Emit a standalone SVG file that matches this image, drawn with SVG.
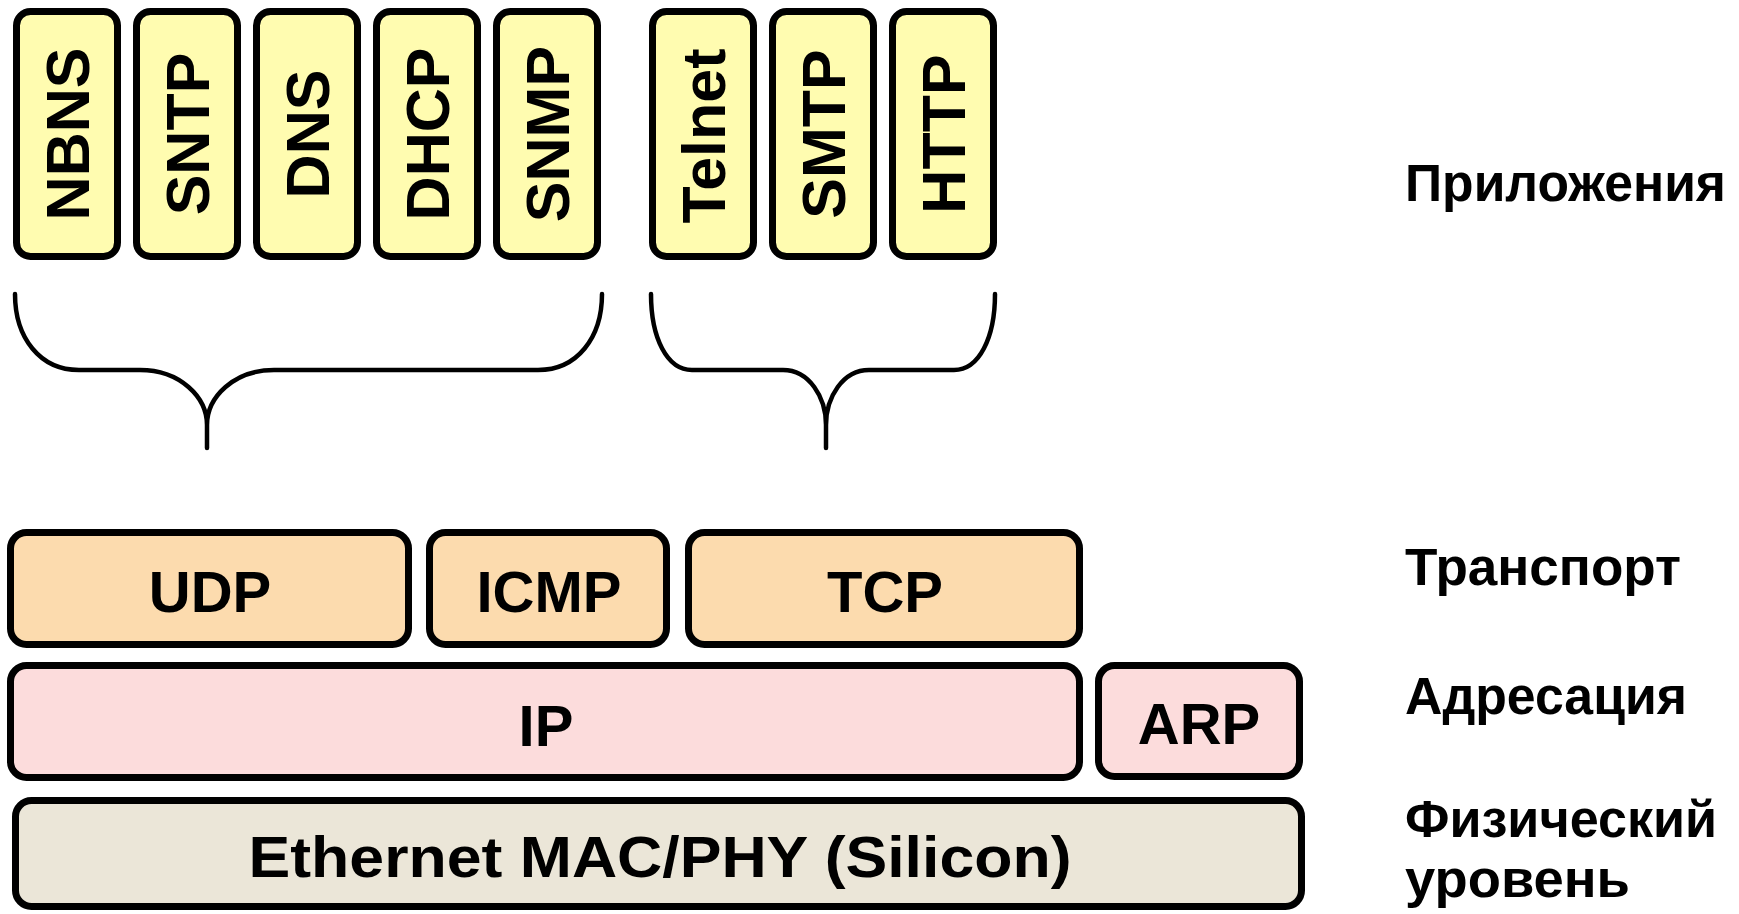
<svg xmlns="http://www.w3.org/2000/svg" width="1739" height="914" viewBox="0 0 1739 914">
<style>
.box{stroke:#000;stroke-width:7}
.app{fill:#FFFCB0}
.tr{fill:#FCDBAE}
.ad{fill:#FCDCDC}
.ph{fill:#EBE6D8}
.t{font-family:"Liberation Sans",Arial,sans-serif;font-weight:bold;fill:#000}
.vt{font-size:61px;text-anchor:middle}
.ht{font-size:58px;text-anchor:middle}
.lbl{font-size:51px}
.brace{fill:none;stroke:#000;stroke-width:4.5;stroke-linecap:round;stroke-linejoin:round}
</style>
<rect width="1739" height="914" fill="#fff"/>
<g id="nbns"><rect class="box app" x="16.5" y="11.5" width="101" height="245" rx="14"/><text class="t vt" transform="translate(67,134) rotate(-90)" x="0" y="22">NBNS</text></g>
<g id="sntp"><rect class="box app" x="136.5" y="11.5" width="101" height="245" rx="14"/><text class="t vt" transform="translate(187,134) rotate(-90)" x="0" y="22">SNTP</text></g>
<g id="dns"><rect class="box app" x="256.5" y="11.5" width="101" height="245" rx="14"/><text class="t vt" transform="translate(307,134) rotate(-90)" x="0" y="22">DNS</text></g>
<g id="dhcp"><rect class="box app" x="376.5" y="11.5" width="101" height="245" rx="14"/><text class="t vt" transform="translate(427,134) rotate(-90)" x="0" y="22">DHCP</text></g>
<g id="snmp"><rect class="box app" x="496.5" y="11.5" width="101" height="245" rx="14"/><text class="t vt" transform="translate(547,134) rotate(-90)" x="0" y="22">SNMP</text></g>
<g id="telnet"><rect class="box app" x="652.5" y="11.5" width="101" height="245" rx="14"/><text class="t vt" transform="translate(703,136) rotate(-90)" x="0" y="22">Telnet</text></g>
<g id="smtp"><rect class="box app" x="772.5" y="11.5" width="101" height="245" rx="14"/><text class="t vt" transform="translate(823,134) rotate(-90)" x="0" y="22">SMTP</text></g>
<g id="http"><rect class="box app" x="892.5" y="11.5" width="101" height="245" rx="14"/><text class="t vt" transform="translate(943,134) rotate(-90)" x="0" y="22">HTTP</text></g>
<g id="connectors">
<path class="brace" d="M15,294 C15,338 40,370 79,370 L140,370 C180,370 207,397 207,425 L207,448 M207,425 C207,397 234,370 274,370 L538,370 C577,370 602,338 602,294"/>
<path class="brace" d="M651,294 C651,338 667,370 692,370 L783,370 C809,370 826,397 826,425 L826,448 M826,425 C826,397 843,370 869,370 L954,370 C979,370 995,338 995,294"/>
</g>
<g id="udp"><rect class="box tr" x="10.5" y="532.5" width="398" height="112" rx="16"/><text class="t ht" x="210" y="612">UDP</text></g>
<g id="icmp"><rect class="box tr" x="429.5" y="532.5" width="237" height="112" rx="16"/><text class="t ht" x="549" y="612">ICMP</text></g>
<g id="tcp"><rect class="box tr" x="688.5" y="532.5" width="391" height="112" rx="16"/><text class="t ht" x="885" y="612">TCP</text></g>
<g id="ip"><rect class="box ad" x="10.5" y="665.5" width="1069" height="112" rx="16"/><text class="t ht" x="546" y="746">IP</text></g>
<g id="arp"><rect class="box ad" x="1098.5" y="665.5" width="201" height="111" rx="16"/><text class="t ht" x="1199" y="744" font-size="60">ARP</text></g>
<g id="ethernet"><rect class="box ph" x="15.5" y="800.5" width="1286" height="106" rx="16"/><text class="t ht" x="660" y="877" font-size="60" textLength="823" lengthAdjust="spacingAndGlyphs">Ethernet MAC/PHY (Silicon)</text></g>
<g id="labels">
<text class="t lbl" x="1405" y="201" textLength="321" lengthAdjust="spacingAndGlyphs">Приложения</text>
<text class="t lbl" x="1405" y="585" textLength="276" lengthAdjust="spacingAndGlyphs">Транспорт</text>
<text class="t lbl" x="1405" y="714" textLength="282" lengthAdjust="spacingAndGlyphs">Адресация</text>
<text class="t lbl" x="1405" y="837" textLength="312" lengthAdjust="spacingAndGlyphs">Физический</text>
<text class="t lbl" x="1405" y="897" textLength="225" lengthAdjust="spacingAndGlyphs">уровень</text>
</g>
</svg>
